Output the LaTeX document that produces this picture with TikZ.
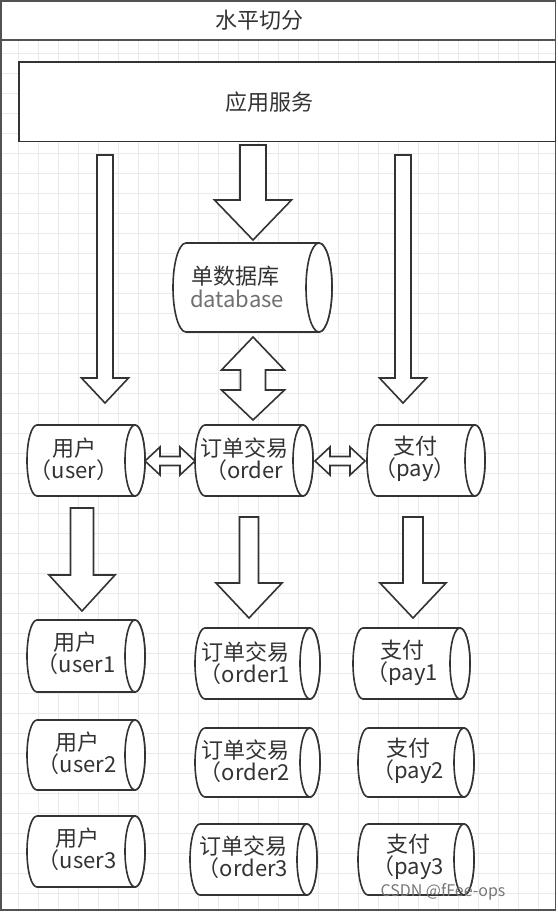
\documentclass[tikz,border=0pt]{standalone}
\usepackage{fontspec}
\setmainfont{Noto Sans CJK SC}
\definecolor{ln}{HTML}{333333}
\definecolor{gridc}{HTML}{EAEAEA}
\definecolor{txt}{HTML}{333333}
\definecolor{dbtxt}{HTML}{707070}
\definecolor{wmc}{HTML}{777777}

% cylinder lying on its side: name, x0, y0, x1, y1, rx
\newcommand\mycyl[6]{%
  \pgfmathsetmacro\mycylcy{(#3+#5)/2}%
  \pgfmathsetmacro\mycylry{(#5-#3)/2}%
  \draw[ln] ({#2+#6},#3) -- ({#4-#6},#3)
     arc[start angle=-90,end angle=90,x radius=#6,y radius=\mycylry]
     -- ({#2+#6},#5)
     arc[start angle=90,end angle=270,x radius=#6,y radius=\mycylry] -- cycle;
  \draw[ln] ({#4-#6},\mycylcy) ellipse[x radius=#6,y radius=\mycylry];
  \coordinate (#1) at ({(#2+#4)/2},\mycylcy);
}
% block arrow down: cx, shaft half, head half, top, head start, tip
\newcommand\blkdown[6]{%
  \draw[ln] ({#1-#2},#4) -- ({#1+#2},#4) -- ({#1+#2},#5) -- ({#1+#3},#5)
    -- (#1,#6) -- ({#1-#3},#5) -- ({#1-#2},#5) -- cycle;}
% vertical double block arrow: cx, shaft half, head half, tip1, m1, m2, tip2
\newcommand\blkvdbl[7]{%
  \draw[ln] (#1,#4) -- ({#1+#3},#5) -- ({#1+#2},#5) -- ({#1+#2},#6) -- ({#1+#3},#6)
    -- (#1,#7) -- ({#1-#3},#6) -- ({#1-#2},#6) -- ({#1-#2},#5) -- ({#1-#3},#5) -- cycle;}
% horizontal double block arrow: cy, shaft half, head half, tip1, m1, m2, tip2
\newcommand\blkhdbl[7]{%
  \draw[ln] (#4,#1) -- (#5,{#1-#3}) -- (#5,{#1-#2}) -- (#6,{#1-#2}) -- (#6,{#1-#3})
    -- (#7,#1) -- (#6,{#1+#3}) -- (#6,{#1+#2}) -- (#5,{#1+#2}) -- (#5,{#1+#3}) -- cycle;}

\begin{document}
\begin{tikzpicture}[x=1pt,y=-1pt,
  ln/.style={draw=ln, line width=1.6pt, fill=white, line join=miter},
  frm/.style={draw=ln!85, line width=1.8pt},
  lbl/.style={text=txt, font=\fontsize{22}{19}\selectfont, align=center, inner sep=0pt},
  dbl/.style={text=dbtxt, font=\fontsize{22}{19}\selectfont, inner sep=0pt}
]
\useasboundingbox (0,0) rectangle (557,913);
\fill[white] (0,0) rectangle (557,913);
% grid
\begin{scope}
  \clip (1,40) rectangle (555,910);
  \foreach \gx in {18.3,38.3,...,560} \draw[gridc, line width=0.9pt] (\gx,40) -- (\gx,910);
  \foreach \gy in {53.3,73.3,...,910} \draw[gridc, line width=0.9pt] (1,\gy) -- (555,\gy);
\end{scope}
% frame (swimlane)
\draw[frm] (1,1) rectangle (555.5,910);
\draw[frm] (1,40) -- (555.5,40);
\node[lbl] (title) at (259,20) {水平切分};
% application service
\draw[ln] (19,62) rectangle (555.5,141.5);
\node[lbl] (app) at (269,102) {应用服务};

% arrows from the app
\blkdown{105}{8}{23.5}{155}{378}{403}
\blkdown{253}{13}{38.5}{145}{200}{240}
\blkdown{403}{8}{23.5}{155}{378}{403}

% database
\mycyl{db}{173}{243}{332}{332}{13}
\node[lbl] (dbt1) at (235,276) {单数据库};
\node[dbl] (dbt2) at (237,299) {database};

% db <-> order
\blkvdbl{253}{12.5}{31.5}{337}{370}{390}{420}

% second row
\mycyl{user}{27}{425}{145}{496}{10}
\mycyl{order}{195}{425}{313}{496}{10}
\mycyl{pay}{367}{425}{485}{496}{10}
\node[lbl] (tuser) at (74,459) {用户\\（user）};
\node[lbl] (torder) at (244,459) {订单交易\\（order};
\node[lbl] (tpay) at (415,459) {支付\\（pay）};
\blkhdbl{461}{4.5}{14}{145}{160}{180}{195}
\blkhdbl{461}{4.5}{14}{315}{330}{350}{365}

% arrows down
\blkdown{82}{11.5}{33}{508}{575}{611}
\blkdown{249}{9.5}{33}{517}{583}{618}
\blkdown{413}{10}{33}{517}{583}{618}

% shards
\mycyl{user1}{27}{620}{145}{692}{10}
\mycyl{user2}{27}{720}{145}{790}{10}
\mycyl{user3}{27}{816}{145}{887}{10}
\mycyl{order1}{195}{628}{320}{699}{10}
\mycyl{order2}{195}{728}{320}{797}{10}
\mycyl{order3}{190}{824}{317}{895}{10}
\mycyl{pay1}{353}{628}{470}{699}{10}
\mycyl{pay2}{358}{728}{474}{797}{10}
\mycyl{pay3}{358}{824}{474}{895}{10}
\node[lbl] (tuser1) at (76,653) {用户\\（user1};
\node[lbl] (tuser2) at (77,753) {用户\\（user2};
\node[lbl] (tuser3) at (77,849) {用户\\（user3};
\node[lbl] (torder1) at (245,663) {订单交易\\（order1};
\node[lbl] (torder2) at (245,761) {订单交易\\（order2};
\node[lbl] (torder3) at (243,857) {订单交易\\（order3};
\node[lbl] (tpay1) at (402,663) {支付\\（pay1};
\node[lbl] (tpay2) at (408,761) {支付\\（pay2};
\node[lbl] (tpay3) at (408,857) {支付\\（pay3};

% watermark
\node[text=wmc, font=\fontsize{16}{16}\selectfont, inner sep=0pt] (wm) at (443,892) {CSDN @fFee-ops};
\end{tikzpicture}
\end{document}
